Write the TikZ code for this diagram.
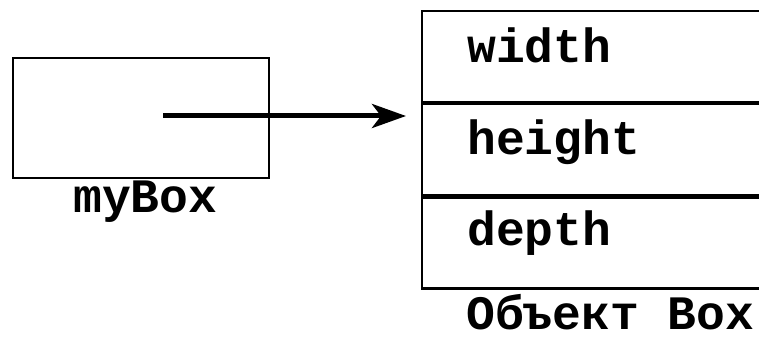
\documentclass[tikz,border=0pt]{standalone}
\usepackage{fontspec}
\setmonofont{Liberation Mono}
\usetikzlibrary{arrows.meta}
\begin{document}
\begin{tikzpicture}[x=1pt,y=-1pt,
  lbl/.style={font=\ttfamily\bfseries\fontsize{48}{56}\selectfont, anchor=base west, inner sep=0pt},
  cell/.style={draw, line width=2.2pt, minimum width=400pt, minimum height=91pt, anchor=north west, inner sep=0pt},
  boxshape/.style={draw, line width=2.2pt, minimum width=256pt, minimum height=120pt, anchor=north west, inner sep=0pt},
  ptr/.style={line width=5pt, -{Stealth[length=34pt, width=24pt, inset=9pt]}}]
\useasboundingbox (0,0) rectangle (759,339);
\clip (0,0) rectangle (759,339);
\node[boxshape] (mybox) at (12,57) {};
\node[lbl] (mylbl) at (73,212) {myBox};
\node[cell] (r1) at (421,10) {};
\node[cell] (r2) at (r1.south west) {};
\node[cell] (r3) at (r2.south west) {};
\node[lbl] (t1) at (467,63) {width};
\node[lbl] (t2) at (467,155) {height};
\node[lbl] (t3) at (467,245) {depth};
\node[lbl] (t4) at (466,329) {Объект Box};
\coordinate (start) at (163,116);
\draw[ptr, shorten >=15pt] (start) -- (start -| r2.west);
\end{tikzpicture}
\end{document}
